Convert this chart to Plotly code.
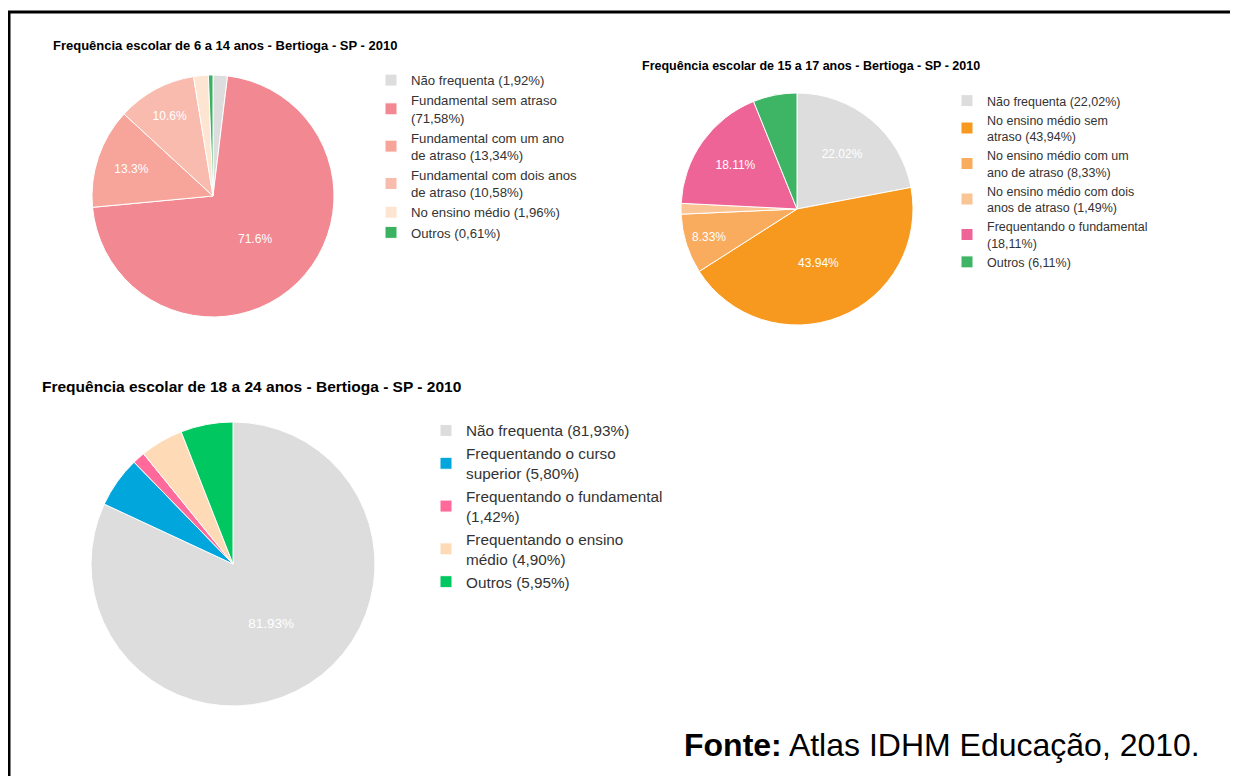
import plotly.graph_objects as go

# a página tem 8px de margem no body: a figura ocupa o resto da janela
OFF = 8
W, H = 1238 - OFF, 776 - OFF

# --- dados (Atlas IDHM Educação, 2010) ---
labels_6_14 = ['Não frequenta (1,92%)', 'Fundamental sem atraso<br>(71,58%)',
               'Fundamental com um ano<br>de atraso (13,34%)',
               'Fundamental com dois anos<br>de atraso (10,58%)',
               'No ensino médio (1,96%)', 'Outros (0,61%)']
values_6_14 = [1.92, 71.58, 13.34, 10.58, 1.96, 0.61]
text_6_14 = ['', '71.6%', '13.3%', '10.6%', '', '']
colors_6_14 = ['#DDDDDD', '#F28891', '#F7A59A', '#F9BBAE', '#FDE5D2', '#3BB262']

labels_15_17 = ['Não frequenta (22,02%)', 'No ensino médio sem<br>atraso (43,94%)',
                'No ensino médio com um<br>ano de atraso (8,33%)',
                'No ensino médio com dois<br>anos de atraso (1,49%)',
                'Frequentando o fundamental<br>(18,11%)', 'Outros (6,11%)']
values_15_17 = [22.02, 43.94, 8.33, 1.49, 18.11, 6.11]
text_15_17 = ['22.02%', '43.94%', '8.33%', '', '18.11%', '']
colors_15_17 = ['#DDDDDD', '#F7991F', '#F9AC5E', '#FBC494', '#EE6496', '#3EB465']

labels_18_24 = ['Não frequenta (81,93%)', 'Frequentando o curso<br>superior (5,80%)',
                'Frequentando o fundamental<br>(1,42%)',
                'Frequentando o ensino<br>médio (4,90%)', 'Outros (5,95%)']
values_18_24 = [81.93, 5.80, 1.42, 4.90, 5.95]
text_18_24 = ['81.93%', '', '', '', '']
colors_18_24 = ['#DDDDDD', '#00A6DC', '#FF6A9A', '#FFDAB6', '#00C75F']


def px(x):
    return (x - OFF) / W


def py(y):
    return 1 - (y - OFF) / H


def pie(labels, values, text, colors, box, legend, fsize):
    x0, y0, x1, y1 = box
    return go.Pie(labels=labels, values=values, text=text, textinfo='text',
                  marker=dict(colors=colors, line=dict(color='white', width=1)),
                  sort=False, direction='clockwise', rotation=0,
                  textposition='inside', insidetextorientation='horizontal',
                  textfont=dict(color='white', size=fsize, family='Arial'),
                  domain=dict(x=[px(x0), px(x1)], y=[py(y1), py(y0)]),
                  legend=legend, hoverinfo='label')


fig = go.Figure()
fig.add_trace(pie(labels_6_14, values_6_14, text_6_14, colors_6_14, (92, 75, 334, 317), 'legend', 12))
fig.add_trace(pie(labels_15_17, values_15_17, text_15_17, colors_15_17, (681, 93, 913, 325), 'legend2', 12))
fig.add_trace(pie(labels_18_24, values_18_24, text_18_24, colors_18_24, (91, 422, 375, 706), 'legend3', 13.5))

leg = dict(xanchor='left', yanchor='top', bgcolor='rgba(0,0,0,0)', borderwidth=0,
           traceorder='normal', itemclick=False, itemdoubleclick=False)

fig.update_layout(
    width=W, height=H,
    margin=dict(l=0, r=0, t=0, b=0),
    paper_bgcolor='white', plot_bgcolor='white',
    font=dict(family='Arial', color='#333333'),
    legend=dict(leg, x=px(371), y=py(65), font=dict(size=13.2, color='#333333')),
    legend2=dict(leg, x=px(947), y=py(86), font=dict(size=12.5, color='#333333')),
    legend3=dict(leg, x=px(426), y=py(414), font=dict(size=15.3, color='#333333')),
    shapes=[
        dict(type='line', xref='paper', yref='paper', x0=px(8), x1=1, y0=py(12), y1=py(12),
             line=dict(color='black', width=3)),
        dict(type='line', xref='paper', yref='paper', x0=px(9), x1=px(9), y0=py(11), y1=0,
             line=dict(color='black', width=3)),
    ],
    annotations=[
        dict(text='<b>Frequência escolar de 6 a 14 anos - Bertioga - SP - 2010</b>',
             x=px(51), y=py(45), xanchor='left', yanchor='middle', showarrow=False,
             font=dict(size=13, color='black')),
        dict(text='<b>Frequência escolar de 15 a 17 anos - Bertioga - SP - 2010</b>',
             x=px(640), y=py(66), xanchor='left', yanchor='middle', showarrow=False,
             font=dict(size=12.5, color='black')),
        dict(text='<b>Frequência escolar de 18 a 24 anos - Bertioga - SP - 2010</b>',
             x=px(40), y=py(387), xanchor='left', yanchor='middle', showarrow=False,
             font=dict(size=15.5, color='black')),
        dict(text='<b>Fonte:</b> Atlas IDHM Educação, 2010.',
             x=px(682), y=py(745), xanchor='left', yanchor='middle', showarrow=False,
             font=dict(size=32, color='black')),
    ],
)

fig.write_html("out.html")
